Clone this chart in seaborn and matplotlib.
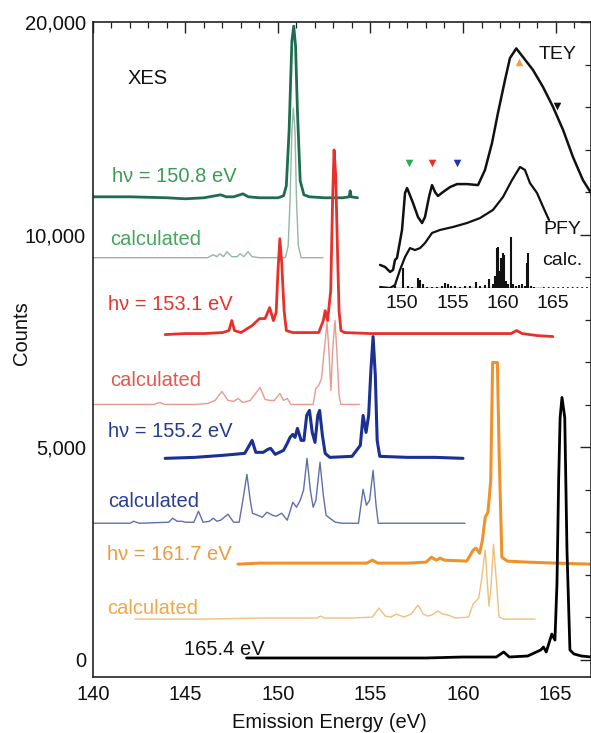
import matplotlib
matplotlib.use("Agg")
import matplotlib.pyplot as plt
import seaborn as sns
import pandas as pd
from matplotlib.ticker import FixedLocator, MultipleLocator

sns.set_theme(style="white")
plt.rcParams['font.family'] = ['Liberation Sans', 'DejaVu Sans']
plt.rcParams['lines.solid_joinstyle'] = 'round'
plt.rcParams['lines.solid_capstyle'] = 'round'

# ---------------- main panel data (emission energy eV, counts) ----------------
green_exp_e = [140, 142, 144, 145, 146, 146.6, 146.9, 147.2, 147.6, 148.1, 148.4, 149, 150, 150.3, 150.45,
               150.6, 150.75, 150.85, 150.95, 151.05, 151.2, 151.4, 151.7, 152.5, 153.5, 153.85, 153.9, 153.95, 154.3]
green_exp_y = [10890, 10890, 10867, 10843, 10867, 10914, 10937, 10890, 10890, 10960, 10890, 10867, 10867, 10914, 11148,
               12439, 14551, 14903, 14434, 12909, 11266, 10937, 10890, 10867, 10867, 10890, 11031, 10890, 10867]

green_calc_e = [140, 144, 146.2, 146.5, 146.7, 146.86, 147.05, 147.24, 147.5, 147.8, 147.95, 148.15, 148.38, 148.6,
                149, 150.4, 150.55, 150.65, 150.75, 150.83, 150.92, 151.0, 151.1, 151.25, 152.43]
green_calc_y = [9458, 9458, 9458, 9529, 9482, 9552, 9482, 9599, 9482, 9482, 9552, 9482, 9599, 9482,
                9458, 9458, 9740, 10796, 12439, 12979, 12439, 10796, 9740, 9458, 9458]

red_exp_e = [143.9, 145, 146, 147, 147.35, 147.5, 147.65, 148, 148.6, 149.0, 149.3, 149.55, 149.75, 149.9, 150.0,
             150.1, 150.2, 150.33, 150.45, 150.8, 151.5, 152.2, 152.45, 152.55, 152.68, 152.85, 152.95, 153.03,
             153.12, 153.22, 153.3, 153.4, 153.6, 155, 157, 159, 161, 162.6, 162.9, 163.2, 164, 164.86]
red_exp_y = [7651, 7675, 7675, 7698, 7745, 7980, 7745, 7698, 7862, 8027, 8027, 8285, 7980, 8168, 9153,
             9904, 9341, 8215, 7745, 7698, 7698, 7698, 7980, 8215, 7980, 8684, 10796, 11993,
             11383, 9552, 8215, 7745, 7698, 7675, 7675, 7675, 7675, 7675, 7745, 7675, 7628, 7604]

red_calc_e = [140, 143.3, 143.6, 143.9, 145.5, 146.2, 146.6, 146.97, 147.3, 147.6, 147.84, 148.1, 148.5, 149.03,
              149.3, 149.57, 149.8, 150.1, 150.3, 150.5, 150.7, 151.9, 152.05, 152.2, 152.35, 152.5, 152.65,
              152.75, 152.86, 152.95, 153.08, 153.18, 153.3, 153.4, 154.4]
red_calc_y = [6008, 6008, 6055, 6008, 6008, 6032, 6102, 6313, 6102, 6079, 6149, 6055, 6102, 6407,
              6126, 6102, 6102, 6266, 6102, 6149, 6008, 6008, 6384, 6454, 6619, 7276, 7933,
              7276, 6337, 7276, 7980, 7276, 6220, 6008, 6008]

blue_exp_e = [143.9, 145.5, 147, 148.2, 148.45, 148.6, 148.8, 149.2, 149.45, 149.6, 149.85, 150.3, 150.5, 150.65,
              150.8, 150.92, 151.05, 151.25, 151.4, 151.55, 151.7, 151.85, 152.0, 152.15, 152.25, 152.4, 152.55,
              152.8, 154.0, 154.45, 154.6, 154.76, 154.9, 155.02, 155.14, 155.26, 155.36, 155.5, 157, 158.5, 160]
blue_exp_y = [4741, 4764, 4811, 4858, 5046, 5163, 4882, 4882, 4952, 4976, 4835, 4929, 5093, 5234,
              5304, 5234, 5445, 5163, 5163, 5750, 5868, 5351, 5116, 5750, 5868, 5281, 4858,
              4764, 4788, 5046, 5750, 5351, 5750, 6806, 7604, 6689, 5163, 4788, 4764, 4764, 4741]

blue_calc_e = [140, 142, 142.2, 142.5, 144.1, 144.3, 144.55, 144.8, 145.0, 145.45, 145.7, 145.95, 146.3, 146.5,
               146.7, 146.9, 147.3, 147.6, 147.9, 148.1, 148.32, 148.5, 148.62, 148.9, 149.15, 149.4, 149.7,
               149.9, 150.2, 150.5, 150.8, 151.0, 151.2, 151.38, 151.57, 151.75, 151.9, 152.05, 152.27, 152.45,
               152.6, 152.8, 153.1, 153.5, 154.35, 154.6, 154.78, 154.95, 155.14, 155.3, 155.42, 160.1]
blue_calc_y = [3215, 3215, 3262, 3215, 3239, 3333, 3262, 3262, 3239, 3239, 3497, 3239, 3262, 3333,
               3262, 3286, 3427, 3239, 3239, 3755, 4365, 3755, 3450, 3403, 3356, 3474, 3403,
               3380, 3450, 3286, 3708, 3591, 3755, 3990, 4741, 3990, 3591, 3755, 4647, 3873,
               3403, 3333, 3239, 3215, 3215, 4013, 3638, 3755, 4459, 3638, 3215, 3215]

orange_exp_e = [147.84, 149, 151, 153, 154.8, 155.1, 155.4, 157, 158.0, 158.3, 158.55, 158.76, 159.0, 160.2,
                160.55, 160.7, 160.9, 161.05, 161.2, 161.35, 161.5, 161.6, 161.86, 161.95, 162.1, 162.4,
                163.5, 165, 166.92]
orange_exp_y = [2253, 2277, 2277, 2277, 2277, 2347, 2277, 2277, 2300, 2417, 2347, 2394, 2347, 2324,
                2582, 2629, 2511, 2816, 3356, 3474, 4225, 6994, 6994, 4929, 2417, 2324,
                2300, 2277, 2253]

orange_calc_e = [142.27, 146, 149, 151, 152.1, 152.3, 152.5, 154, 155.1, 155.46, 155.8, 156.1, 156.4, 156.8,
                 157.2, 157.57, 157.85, 158.1, 158.3, 158.65, 158.9, 159.2, 159.6, 160.3, 160.55, 160.85,
                 161.0, 161.2, 161.4, 161.5, 161.65, 161.8, 161.95, 162.2, 163.9]
orange_calc_y = [962, 962, 986, 986, 986, 1033, 986, 986, 1009, 1220, 1033, 1009, 1080, 1009,
                 1080, 1291, 1080, 1033, 1056, 1150, 1080, 1056, 986, 1009, 1314, 1455,
                 1878, 2582, 1267, 1643, 2723, 1878, 1009, 962, 962]

black_exp_e = [148.3, 150, 152, 154, 156, 158, 160, 161.8, 162.2, 162.5, 163.5, 164.2, 164.35, 164.5, 164.8,
               164.97, 165.08, 165.17, 165.25, 165.35, 165.5, 165.62, 165.78, 166.0, 166.4, 166.92]
black_exp_y = [47, 47, 47, 47, 47, 47, 70, 70, 188, 70, 94, 235, 305, 188, 610,
               469, 1807, 4225, 5703, 6173, 5703, 2582, 235, 141, 94, 70]

ytick_pos = [0, 5000, 10000, 15000]
ytick_labels = ["0", "5,000", "10,000", "20,000"]

# ---------------- inset data (excitation energy eV, arb. units) ----------------
tey_e = [147.82, 148.31, 148.81, 149.11, 149.30, 149.50, 150.0, 150.30, 150.50, 150.70, 151.09, 151.59, 151.99,
         152.28, 152.68, 152.98, 153.28, 153.57, 154.07, 154.77, 155.46, 156.45, 157.55, 158.24, 158.94, 159.53,
         160.23, 160.72, 161.35, 162.02, 163.01, 164.01, 165.0, 166.0, 166.98, 167.97, 168.77]
tey_v = [9.3, 8.5, 6.5, 7.3, 11.3, 12.1, 23.4, 38.3, 40.3, 38.3, 34.3, 28.6, 26.2,
         28.6, 36.7, 41.5, 38.7, 37.1, 38.7, 40.7, 41.9, 41.9, 41.5, 47.6, 58.5, 70.6,
         83.9, 92.7, 96.6, 93.1, 87.9, 81.0, 73.0, 63.7, 52.8, 43.5, 38.3]

pfy_e = [147.82, 148.81, 149.30, 149.80, 150.30, 150.79, 151.29, 151.79, 152.28, 152.98, 153.77, 155.06,
         156.45, 157.75, 159.04, 160.03, 160.92, 161.72, 162.21, 162.71, 163.41, 164.01, 164.60]
pfy_v = [0.4, 0, 1.2, 7.3, 12.5, 16.1, 15.3, 16.1, 18.1, 22.2, 23.4, 24.6,
         26.2, 28.2, 31.5, 36.7, 43.5, 48.8, 47.6, 42.3, 38.3, 32.7, 27.4]

stick_e = [149.3, 150.1, 150.6, 151.0, 151.6, 151.8, 152.1, 152.5, 153.0, 153.5, 154.0, 154.3, 154.6, 154.9,
           155.3, 155.8, 156.3, 156.8, 157.3, 157.7, 158.2, 158.6, 159.0, 159.2, 159.4, 159.55, 159.7, 159.85,
           160.0, 160.15, 160.3, 160.5, 160.8, 161.0, 161.3, 161.6, 161.9, 162.2, 162.45, 162.55, 162.8, 163.1]
stick_h = [1.0, 8.0, 0.8, 0.6, 4.0, 3.2, 1.6, 0.5, 0.5, 0.6, 0.8, 2.0, 1.6, 1.0,
           0.8, 0.6, 0.7, 0.8, 2.4, 1.0, 1.2, 3.6, 1.6, 5.0, 16.0, 16.5, 7.0, 12.0,
           14.0, 13.5, 3.0, 1.5, 20.6, 1.5, 1.0, 1.2, 1.6, 1.0, 10.0, 14.0, 1.0, 0.6]
stick_base_e = [149.0, 164.0]
stick_dots_e = [164.0, 168.8]

mark_e = [150.7, 153.0, 155.5, 161.6, 165.4]
mark_v = [50.4, 50.4, 50.4, 91.1, 73.4]
mark_shape = ['v', 'v', 'v', '^', 'v']
mark_color = ['#2eaa5a', '#e8302a', '#2233aa', '#f0a040', '#111111']

# ---------------- figure ----------------
W, H = 591, 733
fig = plt.figure(figsize=(W / 100, H / 100), dpi=100)
ax = fig.add_axes([93 / W, 56 / H, 498 / W, 655 / H])


def draw(a, e, y, color, lw):
    df = pd.DataFrame({'E': e, 'I': y})
    sns.lineplot(data=df, x='E', y='I', ax=a, color=color, lw=lw, sort=False, estimator=None)


draw(ax, green_calc_e, green_calc_y, '#93b8a6', 1.0)
draw(ax, green_exp_e, green_exp_y, '#1d6e50', 2.0)
draw(ax, red_calc_e, red_calc_y, '#e89a90', 1.0)
draw(ax, red_exp_e, red_exp_y, '#e8302a', 2.0)
draw(ax, blue_calc_e, blue_calc_y, '#5f6fab', 1.0)
draw(ax, blue_exp_e, blue_exp_y, '#1b2f95', 2.2)
draw(ax, orange_calc_e, orange_calc_y, '#eec07c', 1.0)
draw(ax, orange_exp_e, orange_exp_y, '#f0922c', 2.2)
draw(ax, black_exp_e, black_exp_y, '#000000', 2.0)

ax.set_xlim(140, 140 + 498 / 18.5)
ax.set_ylim(-400, 15000)
ax.set_xlabel('')
ax.set_ylabel('')
ax.grid(False)
ax.xaxis.set_major_locator(MultipleLocator(5))
ax.xaxis.set_minor_locator(MultipleLocator(1))
ax.yaxis.set_major_locator(FixedLocator(ytick_pos))
ax.yaxis.set_minor_locator(MultipleLocator(1000))
ax.set_yticklabels(ytick_labels)
ax.tick_params(which='both', direction='in', top=True, right=True, colors='#222222', labelcolor='#111111')
ax.tick_params(which='major', length=8, width=1.0, labelsize=14.5)
ax.tick_params(axis='x', which='major', pad=6)
ax.tick_params(axis='y', which='major', pad=5)
ax.tick_params(which='minor', length=4.5, width=0.9)
for s in ax.spines.values():
    s.set_color('#222222')
    s.set_linewidth(1.2)

txt = dict(fontsize=14.5, ha='left', va='baseline')
fig.text(128 / W, 1 - 84 / H, 'XES', color='#111111', **txt)
fig.text(112 / W, 1 - 182 / H, 'hν = 150.8 eV', color='#3a9c54', **txt)
fig.text(110 / W, 1 - 245 / H, 'calculated', color='#45a65c', **txt)
fig.text(108 / W, 1 - 310 / H, 'hν = 153.1 eV', color='#e2342c', **txt)
fig.text(110 / W, 1 - 386 / H, 'calculated', color='#df5a4f', **txt)
fig.text(108 / W, 1 - 437 / H, 'hν = 155.2 eV', color='#263a94', **txt)
fig.text(108 / W, 1 - 507 / H, 'calculated', color='#2b3f98', **txt)
fig.text(107 / W, 1 - 560 / H, 'hν = 161.7 eV', color='#ef9a3c', **txt)
fig.text(107 / W, 1 - 614 / H, 'calculated', color='#f0a848', **txt)
fig.text(184 / W, 1 - 655 / H, '165.4 eV', color='#111111', **txt)

fig.text(329 / W, 1 - 728 / H, 'Emission Energy (eV)', fontsize=14.5, ha='center', va='baseline', color='#111111')
fig.text(21 / W, 1 - 333 / H, 'Counts', fontsize=14.5, ha='center', va='center', rotation=90, color='#111111')

# ---------------- inset ----------------
axi = fig.add_axes([370 / W, (H - 288) / H, 221 / W, 248 / H])
axi.patch.set_alpha(0)
draw(axi, tey_e, tey_v, '#111111', 1.8)
draw(axi, pfy_e, pfy_v, '#111111', 1.6)
draw(axi, stick_base_e, [0, 0], '#111111', 1.0)
sns.lineplot(x=stick_dots_e, y=[0, 0], ax=axi, color='#111111', lw=1.3, ls=':', estimator=None)
axi.vlines(stick_e, 0, stick_h, color='#111111', lw=1.5)
for e, v, m, c in zip(mark_e, mark_v, mark_shape, mark_color):
    axi.scatter([e], [v], marker=m, s=30, color=c, linewidths=0, zorder=5)
axi.set_xlim(146.82, 168.77)
axi.set_ylim(0, 100)
axi.set_xlabel('')
axi.set_ylabel('')
axi.set_xticks([150, 155, 160, 165])
axi.set_yticks([])
axi.tick_params(axis='x', length=0, pad=5, labelsize=14, labelcolor='#111111')
for s in axi.spines.values():
    s.set_visible(False)
axi.grid(False)

itxt = dict(fontsize=14, ha='left', va='baseline', color='#111111')
fig.text(539 / W, 1 - 59 / H, 'TEY', **itxt)
fig.text(543 / W, 1 - 234 / H, 'PFY', **itxt)
fig.text(542 / W, 1 - 265 / H, 'calc.', **itxt)

fig.savefig('out.png', dpi=100)
